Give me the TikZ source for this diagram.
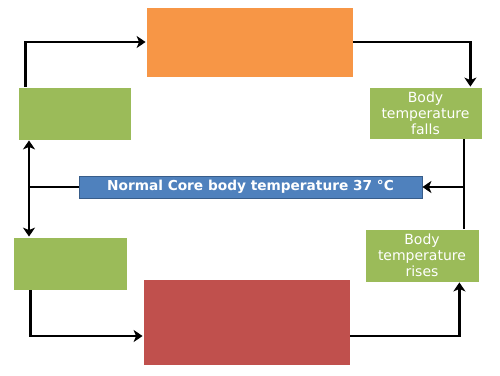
\documentclass[tikz,border=0pt]{standalone}
\usepackage{fontspec}
\setmainfont{DejaVu Sans}
\usetikzlibrary{arrows.meta,backgrounds}
\definecolor{orng}{HTML}{F79646}
\definecolor{grn}{HTML}{9BBB59}
\definecolor{rd}{HTML}{C0504D}
\definecolor{blu}{HTML}{4F81BD}
\definecolor{bluedge}{HTML}{385D8A}
\definecolor{shade}{HTML}{BFBFBF}
\begin{document}
\begin{tikzpicture}[x=1pt,y=-1pt,
  box/.style={draw=white,line width=0.8pt,inner sep=0pt,align=center,text=white,
    font=\fontsize{14}{16}\selectfont},
  conn/.style={line width=2.8pt,black},
  arr/.style={conn,-{Stealth[length=9pt,width=12pt,inset=2.5pt]}}]
\useasboundingbox[fill=white] (0,0) rectangle (500,375);
\node[box,fill=orng,minimum width=207pt,minimum height=70pt] (orange) at (249.5,42) {};
\node[box,fill=grn,minimum width=113pt,minimum height=53pt] (gtl) at (74.5,113.5) {};
\node[box,fill=grn,minimum width=113pt,minimum height=52pt] (falls) at (425.5,113) {Body\\temperature\\falls};
\node[draw=bluedge,line width=0.8pt,fill=blu,text=white,inner sep=0pt,minimum width=343pt,minimum height=22pt,
  font=\bfseries\fontsize{13.7}{16}\selectfont] (blue) at (250.5,187) {Normal Core body temperature 37 °C};
\node[box,fill=grn,minimum width=114pt,minimum height=53pt] (gbl) at (70,263.5) {};
\node[box,fill=rd,minimum width=207pt,minimum height=86pt] (red) at (246.5,322) {};
\node[box,fill=grn,minimum width=114pt,minimum height=53pt] (rises) at (422,255.5) {Body\\temperature\\rises};
\begin{scope}[on background layer]
\foreach \n in {orange,gtl,falls,gbl,red,rises}
  \fill[shade] ([xshift=-1.5pt,yshift=1pt]\n.south west) rectangle ([xshift=1.5pt,yshift=-2.2pt]\n.south east);
\end{scope}
\coordinate (jr) at (464,187);
\coordinate (jl) at (29,187);
% top loop
\draw[arr] ([xshift=8pt]gtl.north west) |- (orange.west);
\draw[arr] (orange.east) -| ([xshift=-12pt]falls.north east);
\draw[conn] (jr |- falls.south) -- (jr |- rises.north);
\draw[arr] (jr) -- (blue.east);
% left side
\draw[conn] (blue.west) -- (jl);
\draw[arr] (jl) -- (jl |- gtl.south);
\draw[arr] (jl) -- (jl |- gbl.north);
% bottom loop
\draw[arr] ([xshift=18pt]gbl.south west) |- ([yshift=-14pt]red.west);
\draw[arr] ([yshift=-14pt]red.east) -| ([xshift=-20pt]rises.south east);
\end{tikzpicture}
\end{document}
